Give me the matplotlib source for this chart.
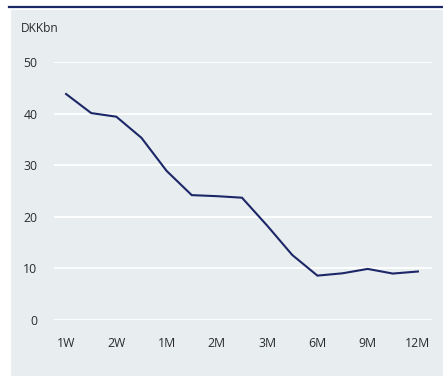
import matplotlib
matplotlib.use("Agg")
import matplotlib.pyplot as plt
from matplotlib.lines import Line2D
from matplotlib.patches import Rectangle

# Maturity buckets and amounts (DKK billion), sampled at half-bucket steps
tick_labels = ["1W", "2W", "1M", "2M", "3M", "6M", "9M", "12M"]
positions = [0, 0.5, 1, 1.5, 2, 2.5, 3, 3.5, 4, 4.5, 5, 5.5, 6, 6.5, 7]
values = [43.8, 40.1, 39.4, 35.3, 28.9, 24.2, 24.0, 23.7, 18.3,
          12.6, 8.6, 9.05, 9.9, 9.0, 9.4]
y_ticks = [0, 10, 20, 30, 40, 50]

navy = "#1b2766"
panel = "#e8edf0"
text_col = "#2b2b2b"

plt.rcParams["font.family"] = ["Open Sans", "DejaVu Sans"]

W, H = 443, 376
fig = plt.figure(figsize=(W / 100, H / 100), dpi=100)
fig.patch.set_facecolor("white")

# background panel and top rule
fig.add_artist(Rectangle((11 / W, 0), (W - 11) / W, (H - 10) / H,
                         transform=fig.transFigure, facecolor=panel,
                         edgecolor="none", zorder=0))
fig.add_artist(Line2D([9 / W, 1], [1 - 7 / H, 1 - 7 / H],
                      transform=fig.transFigure, color=navy, lw=1.6))

ax = fig.add_axes([54 / W, 56 / H, (432 - 54) / W, (320 - 62) / H])
ax.set_facecolor("none")
ax.plot(positions, values, color=navy, lw=1.5, clip_on=False, zorder=3,
        solid_joinstyle="miter")

ax.set_xlim(-0.24, 7.28)
ax.set_ylim(0, 50)
ax.set_yticks(y_ticks)
ax.set_xticks(range(len(tick_labels)))
ax.set_xticklabels(tick_labels)
ax.grid(axis="y", color="white", lw=1.3)
ax.set_axisbelow(True)
for s in ax.spines.values():
    s.set_visible(False)
ax.tick_params(axis="both", length=0, labelsize=8.8, colors=text_col)
ax.tick_params(axis="y", pad=12)
ax.tick_params(axis="x", pad=12.5)

fig.text(21 / W, 1 - 29 / H, "DKKbn", fontsize=8.6, color=text_col,
         ha="left", va="center")

fig.savefig("out.png", dpi=100)
